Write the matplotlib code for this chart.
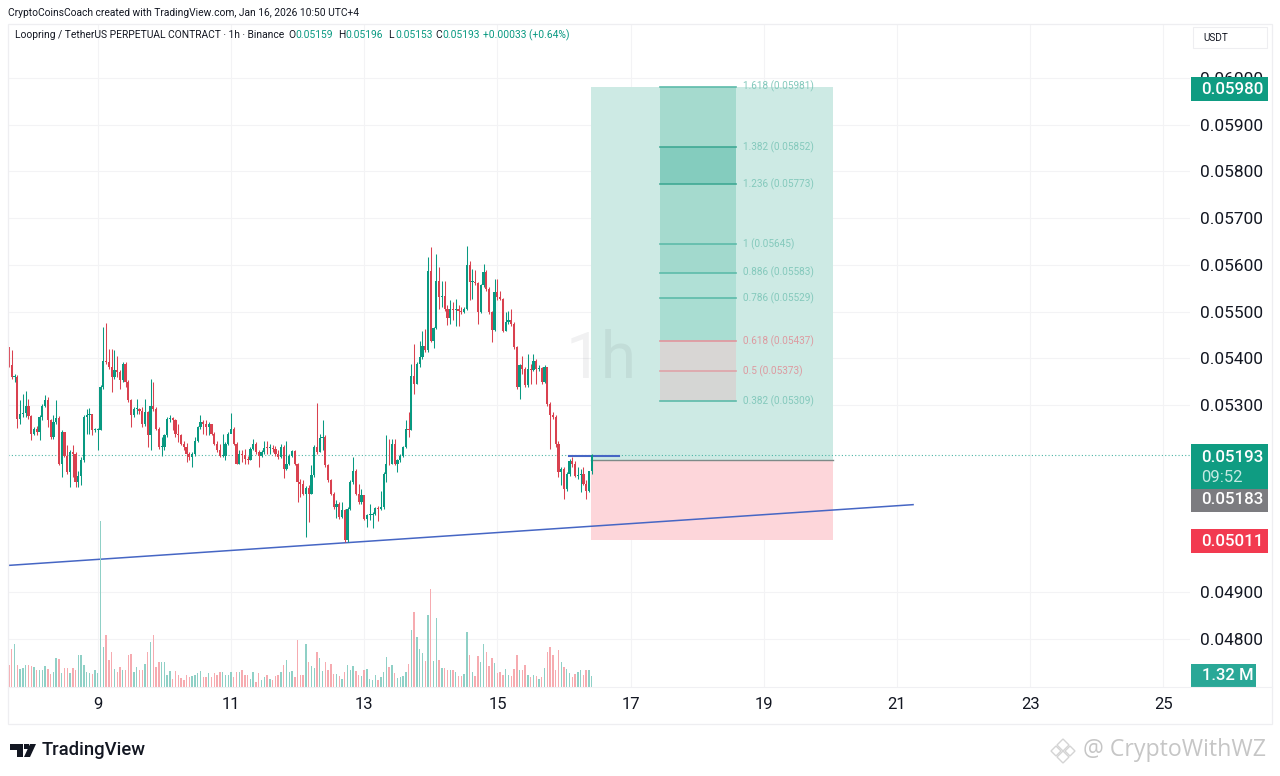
#LRC/USDT 1h chart with long position and fib levels
import numpy as np
import matplotlib
matplotlib.use("Agg")
from matplotlib import pyplot as plt
from matplotlib.patches import Rectangle, Polygon

# candle values, price x 1e5, one hour each
first_open = 5424
closes = [5385,5360,5361,5271,5281,5283,5297,5276,5239,5249,
          5242,5274,5299,5310,5267,5231,5264,5273,5174,5242,
          5192,5157,5199,5196,5135,5149,5182,5274,5278,5280,
          5246,5247,5247,5338,5395,5392,5381,5360,5374,5370,
          5353,5388,5349,5310,5278,5292,5292,5288,5260,5285,
          5235,5299,5292,5249,5210,5210,5235,5271,5273,5269,
          5239,5235,5217,5211,5196,5189,5196,5224,5253,5264,
          5259,5254,5260,5239,5217,5203,5192,5192,5217,5239,
          5249,5217,5175,5196,5194,5185,5183,5207,5217,5199,
          5192,5199,5209,5208,5208,5207,5196,5189,5210,5164,
          5175,5192,5202,5175,5135,5132,5110,5123,5110,5150,
          5210,5199,5230,5232,5171,5139,5110,5082,5089,5060,
          5075,5011,5078,5135,5160,5110,5093,5107,5057,5064,
          5064,5068,5080,5078,5082,5153,5175,5173,5217,5175,
          5182,5192,5210,5249,5247,5363,5345,5388,5402,5427,
          5417,5586,5438,5465,5566,5531,5534,5506,5487,5506,
          5504,5506,5501,5499,5506,5599,5563,5563,5561,5499,
          5556,5584,5549,5499,5461,5541,5531,5527,5459,5477,
          5481,5474,5424,5338,5385,5377,5342,5377,5375,5395,
          5377,5379,5349,5381,5303,5278,5274,5217,5156,5164,
          5121,5153,5181,5174,5149,5151,5153,5131,5117,5159,
          5193]
highs = [5425,5417,5366,5365,5310,5323,5331,5313,5278,5253,
         5256,5278,5303,5321,5318,5271,5278,5310,5276,5246,
         5242,5214,5203,5214,5199,5160,5189,5278,5292,5294,
         5281,5251,5251,5342,5467,5475,5420,5420,5417,5406,
         5374,5392,5392,5353,5313,5296,5313,5294,5296,5313,
         5288,5356,5349,5296,5253,5231,5239,5274,5278,5274,
         5271,5260,5239,5224,5219,5199,5199,5231,5256,5278,
         5267,5267,5264,5260,5242,5224,5217,5239,5221,5242,
         5284,5253,5221,5203,5204,5207,5192,5210,5228,5221,
         5203,5203,5224,5224,5217,5214,5212,5203,5217,5214,
         5224,5196,5204,5204,5176,5142,5139,5126,5128,5171,
         5214,5304,5239,5269,5235,5175,5142,5114,5096,5093,
         5093,5078,5082,5139,5189,5164,5132,5121,5107,5068,
         5089,5071,5083,5085,5117,5157,5235,5228,5228,5228,
         5185,5196,5213,5267,5285,5388,5430,5392,5438,5459,
         5463,5616,5639,5468,5623,5595,5566,5565,5513,5524,
         5520,5527,5513,5509,5509,5641,5609,5591,5588,5563,
         5559,5602,5588,5552,5502,5570,5570,5545,5529,5499,
         5502,5506,5477,5427,5388,5406,5381,5410,5388,5410,
         5399,5385,5382,5385,5382,5306,5285,5278,5224,5167,
         5167,5156,5185,5189,5181,5167,5164,5167,5139,5160,
         5196]
lows = [5381,5356,5350,5251,5260,5274,5274,5271,5226,5235,
        5235,5226,5267,5296,5253,5228,5228,5260,5171,5146,
        5189,5153,5125,5146,5125,5125,5128,5178,5239,5239,
        5235,5242,5203,5246,5335,5388,5378,5328,5356,5360,
        5335,5349,5338,5306,5253,5274,5281,5281,5253,5256,
        5210,5203,5288,5246,5206,5192,5203,5231,5264,5246,
        5231,5221,5214,5203,5178,5182,5167,5192,5221,5249,
        5239,5235,5235,5235,5214,5199,5189,5189,5182,5214,
        5246,5214,5173,5175,5178,5175,5175,5182,5203,5196,
        5167,5189,5196,5196,5196,5199,5192,5185,5187,5145,
        5162,5171,5189,5171,5093,5103,5107,5018,5050,5109,
        5146,5196,5199,5203,5167,5135,5107,5078,5059,5057,
        5059,5008,5008,5075,5132,5107,5089,5089,5055,5039,
        5055,5038,5064,5053,5075,5078,5135,5171,5175,5171,
        5157,5178,5189,5209,5231,5246,5324,5345,5381,5399,
        5413,5413,5435,5422,5463,5506,5509,5502,5472,5474,
        5481,5470,5470,5494,5497,5504,5525,5527,5556,5474,
        5497,5552,5545,5495,5435,5459,5525,5524,5456,5458,
        5474,5470,5420,5335,5313,5367,5338,5338,5345,5373,
        5345,5373,5345,5347,5299,5206,5271,5210,5146,5128,
        5099,5117,5149,5167,5146,5142,5114,5128,5099,5114,
        5153]
# volume in millions
volumes = [2.7,4.6,5.2,2.7,2.2,2.3,2.7,2.6,2.5,2.4,
           2.0,2.0,2.1,2.5,2.2,1.6,1.8,3.5,3.4,1.7,
           2.3,2.3,1.7,2.3,2.0,3.8,3.9,2.6,1.8,1.7,
           1.6,2.0,1.7,19.9,4.8,6.3,3.2,4.2,2.2,1.8,
           2.4,2.0,2.0,3.9,4.0,1.8,2.4,2.1,2.0,2.8,
           4.2,5.4,6.2,2.4,3.0,3.0,3.0,1.5,1.9,1.0,
           1.9,1.4,1.1,0.9,1.4,1.2,1.3,1.4,1.7,1.9,
           1.2,1.2,1.7,1.2,1.7,1.5,1.8,1.8,1.4,1.5,
           1.8,1.2,1.8,1.8,2.0,1.4,1.5,1.0,1.8,0.6,
           1.7,0.9,1.2,1.4,1.0,0.8,1.3,1.4,1.8,2.7,
           3.3,1.8,1.9,1.2,5.6,1.4,1.4,5.2,3.0,2.5,
           2.3,4.2,3.5,1.9,3.0,2.1,2.8,1.6,1.6,1.3,
           1.0,1.8,2.7,2.0,2.5,1.9,1.4,1.3,2.1,2.2,
           1.0,0.8,1.4,0.9,1.2,1.8,3.6,2.4,2.7,1.7,
           1.1,1.2,1.3,1.8,2.8,6.9,9.0,6.0,4.6,4.1,
           3.1,8.6,11.8,3.1,8.3,3.2,2.3,2.3,2.0,2.0,
           2.0,1.8,1.3,1.3,1.6,6.6,3.8,1.8,1.3,3.7,
           3.0,5.2,4.2,2.5,3.5,2.9,1.7,1.8,1.4,2.2,
           1.4,1.3,2.2,3.9,2.0,2.0,2.7,1.4,1.2,1.4,
           1.3,1.0,1.2,2.3,4.2,4.8,3.8,2.1,4.4,3.0,
           2.4,2.2,1.7,1.2,1.6,1.8,2.1,1.5,2.0,2.0,1.32]

day_labels = ["9", "11", "13", "15", "17", "19", "21", "23", "25"]
day_hours = [32, 80, 128, 176, 224, 272, 320, 368, 416]
price_ticks = [0.048, 0.049, 0.053, 0.054, 0.055, 0.056, 0.057, 0.058, 0.059, 0.060]

last_price = 0.05193
entry_price = 0.05183
target_price = 0.05980
stop_price = 0.05011
position_hours = [209.7, 296.9]
level_hours = [201.8, 219.8]
level_price = 0.05190
trend_hours = [-0.4, 325.8]
trend_prices = [0.04957, 0.05087]

fib_hours = [234.6, 262]
fib_ratios = ["1.618", "1.382", "1.236", "1", "0.886", "0.786", "0.618", "0.5", "0.382"]
fib_prices = [0.05981, 0.05852, 0.05773, 0.05645, 0.05583, 0.05529, 0.05437, 0.05373, 0.05309]
fib_lines = ["#5dbbaa", "#3fa994", "#3fa994", "#5dbbaa", "#5dbbaa", "#5dbbaa", "#e2959d", "#dfa3a8", "#5dbbaa"]
fib_fills = ["#a5dace", "#84ccbe", "#a5dace", "#a2d9cd", "#b0e0d6", "#a9ddd2", "#d8d6d4", "#d5d6d4"]

GREEN = "#089981"
RED = "#d9414f"
TAG_GREEN = "#0f9c82"
TEXT = "#131722"
GRID = "#f3f3f5"

plt.rcParams['font.family'] = ['Roboto', 'DejaVu Sans']

closes = np.array(closes) / 1e5
highs = np.array(highs) / 1e5
lows = np.array(lows) / 1e5
opens = np.concatenate(([first_open / 1e5], closes[:-1]))
hours = np.arange(len(closes))
is_up = closes >= opens
colors = [GREEN if u else RED for u in is_up]
vol_colors = ["#8fd0c6" if u else "#f6abb0" for u in is_up]

W, H = 1280, 776
fig = plt.figure(figsize=(W / 100, H / 100), dpi=100, facecolor="white")
box = [8 / W, 1 - 687 / H, 1182 / W, 663 / H]

axis = fig.add_axes(box)
axis.set_xlim(-0.36, 425.6)
axis.set_ylim(0.04697, 0.06115)
axis.set_facecolor("white")
for s in axis.spines.values():
    s.set_visible(False)
axis.yaxis.tick_right()
axis.set_yticks(price_ticks)
axis.set_yticklabels(["%.5f" % p for p in price_ticks], fontsize=12.4, color=TEXT)
axis.set_xticks(day_hours)
axis.set_xticklabels(day_labels, fontsize=12, color=TEXT)
axis.tick_params(axis="y", length=0, pad=7.5)
axis.tick_params(axis="x", length=0, pad=7.5)
axis.grid(True, color=GRID, lw=0.8)
axis.set_axisbelow(True)

# long position box
axis.fill_between(position_hours, entry_price, target_price, color="#cdeae4", lw=0, zorder=1.5)
axis.fill_between(position_hours, stop_price, entry_price, color="#fdd6da", lw=0, zorder=1.5)
axis.plot(position_hours, [entry_price, entry_price], color="#7d8a88", lw=1, zorder=2)

axis.text(213.5, 0.05397, "1h", fontsize=46, color=TEXT, alpha=0.06, ha="center", va="center", zorder=1.7)

# fib bands and levels
for i in range(len(fib_fills)):
    axis.fill_between(fib_hours, fib_prices[i + 1], fib_prices[i], color=fib_fills[i], lw=0, zorder=2)
for r, p, c in zip(fib_ratios, fib_prices, fib_lines):
    axis.plot(fib_hours, [p, p], color=c, lw=1.2, zorder=2.5)
    label_color = "#dd9aa0" if c.startswith("#e") or c.startswith("#d") else "#84c9bc"
    axis.text(fib_hours[1] + 2.5, p, "%s (%.5f)" % (r, p), fontsize=7.2, color=label_color,
              va="center", zorder=3)

# volume on its own scale, same box
vol_axis = fig.add_axes(box, sharex=axis)
vol_axis.patch.set_visible(False)
vol_axis.set_ylim(0, 79.6)
vol_axis.axis("off")
vol_axis.bar(hours, volumes, width=0.5, color=vol_colors, lw=0)

# candles
axis.axhline(last_price, color="#4db6a5", lw=0.8, ls=(0, (1, 2)), zorder=3)
axis.plot(trend_hours, trend_prices, color="#4666c4", lw=1.1, zorder=4)
axis.plot(level_hours, [level_price, level_price], color="#4666c4", lw=1.5, zorder=3)
axis.vlines(hours, lows, highs, colors=colors, lw=0.75, zorder=5)
axis.bar(hours, np.abs(closes - opens).clip(0.00002), bottom=np.minimum(opens, closes),
         width=0.8, color=colors, lw=0, zorder=6)

# overlay in picture pixels for the chrome
over = fig.add_axes([0, 0, 1, 1], zorder=10)
over.set_xlim(0, W)
over.set_ylim(H, 0)
over.axis("off")
over.add_patch(Rectangle((8, 24), 1264, 700, fc="none", ec="#eeeef1", lw=0.9))
over.plot([8, 1272], [687, 687], color="#f0f0f3", lw=0.8)

over.text(8, 13, "CryptoCoinsCoach created with TradingView.com, Jan 16, 2026 10:50 UTC+4",
          fontsize=7.4, color=TEXT, va="center")
over.text(15, 35, "Loopring / TetherUS PERPETUAL CONTRACT · 1h · Binance",
          fontsize=7.35, color=TEXT, va="center")
for x, key, val in [(288, "O", "0.05159"), (338, "H", "0.05196"), (388, "L", "0.05153"), (435, "C", "0.05193")]:
    over.text(x, 35, key, fontsize=7.35, color=TEXT, va="center")
    over.text(x + 7.5, 35, val, fontsize=7.35, color=GREEN, va="center")
over.text(483, 35, "+0.00033 (+0.64%)", fontsize=7.35, color=GREEN, va="center")

over.add_patch(Rectangle((1193, 27), 74, 21, fc="white", ec="#eeeef1", lw=0.8))
over.text(1203, 38, "USDT", fontsize=7.2, color=TEXT, va="center")

# price tags
for y0, y1, c in [(77, 101, TAG_GREEN), (444, 489, TAG_GREEN), (489, 512, "#7c7c80"), (529, 553, "#f23a50")]:
    over.add_patch(Rectangle((1191, y0), 77, y1 - y0, fc=c, ec="none"))
for y, s in [(89, "%.5f" % target_price), (457, "%.5f" % last_price), (500, "%.5f" % entry_price), (541, "%.5f" % stop_price)]:
    over.text(1201, y, s, fontsize=12.2, fontweight="medium", color="white", va="center")
over.text(1201, 477, "09:52", fontsize=12, color="#c4eae2", va="center")
over.add_patch(Rectangle((1191, 664), 65, 23, fc="#2aa897", ec="none"))
over.text(1202, 676, "1.32 M", fontsize=12, fontweight="medium", color="white", va="center")

# TradingView logo
over.add_patch(Polygon([(10, 744), (23, 744), (23, 757), (17, 757), (17, 750), (10, 750)], fc="#131722", ec="none"))
over.add_patch(Rectangle((24, 744), 4.5, 4.5, fc="#131722", ec="none"))
over.add_patch(Polygon([(30, 744), (36, 744), (30, 757), (24, 757)], fc="#131722", ec="none"))
over.text(42, 750, "TradingView", fontsize=13.3, fontweight="medium", color="#131722", va="center")

# watermark
for cx, cy, r in [(1063, 745, 6), (1056, 751, 5), (1070, 751, 5), (1063, 757, 6)]:
    over.add_patch(Polygon([(cx - r, cy), (cx, cy - r), (cx + r, cy), (cx, cy + r)],
                           fc="white", ec="#d4d4d4", lw=1))
over.text(1083, 750, "@ CryptoWithWZ", fontsize=16.7, color="#c6c6c6", va="center",
          family=["Open Sans", "DejaVu Sans"])

fig.savefig("out.png", dpi=100, facecolor="white")
